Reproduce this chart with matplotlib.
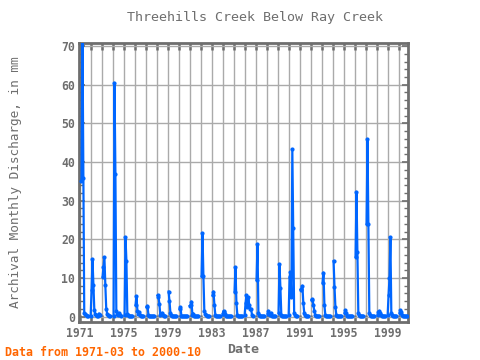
import matplotlib
matplotlib.use("Agg")
import matplotlib.pyplot as plt
from matplotlib.ticker import MultipleLocator
import numpy as np

nan = float('nan')
# Monthly discharge (mm), Jan..Dec per year (nan = no winter record);
# 1971 starts in March, 2000 ends in October
y1971 = [35.0, 75.0, 36.0, 1.0, 0.6, 0.4, 0.2, 0.2, nan, nan]
y1972 = [0.2, 7.0, 14.8, 8.2, 1.7, 0.6, 0.4, 0.2, 0.2, 0.8, 0.5, nan]
y1973 = [nan, 10.3, 12.9, 15.4, 8.2, 2.0, 0.8, 0.4, 0.2, 0.2, nan, nan]
y1974 = [nan, 0.2, 60.5, 37.0, 1.5, 0.8, 0.5, 1.0, 0.5, 0.2, nan, nan]
y1975 = [nan, 0.5, 20.5, 14.5, 0.8, 0.5, 0.2, 0.2, 0.2, 0.2, nan, nan]
y1976 = [nan, 3.0, 5.3, 1.5, 0.8, 1.2, 0.5, 0.2, 0.2, 0.2, nan, nan]
y1977 = [nan, 2.5, 2.8, 0.5, 0.2, 0.2, 0.2, 0.2, 0.2, 0.2, nan, nan]
y1978 = [nan, 5.5, 5.2, 3.2, 0.5, 0.8, 1.0, 0.5, 0.2, 0.2, nan, nan]
y1979 = [nan, 6.5, 4.0, 1.0, 0.5, 0.2, 0.2, 0.2, 0.2, 0.2, nan, nan]
y1980 = [nan, 2.0, 2.4, 0.2, 0.2, 0.2, 0.2, 0.2, 0.2, 0.2, nan, nan]
y1981 = [2.8, 3.0, 3.9, 0.5, 0.8, 0.2, 0.2, 0.2, 0.2, 0.2, nan, nan]
y1982 = [nan, 10.5, 21.6, 10.5, 1.5, 0.8, 0.5, 0.2, 0.2, 0.2, nan, nan]
y1983 = [nan, 5.5, 6.5, 3.0, 0.5, 0.2, 0.2, 0.2, 0.2, 0.2, nan, nan]
y1984 = [0.8, 1.5, 1.2, 0.8, 0.2, 0.2, 0.2, 0.2, 0.2, 0.2, nan, nan]
y1985 = [nan, 6.5, 12.8, 3.5, 0.5, 0.2, 0.2, 0.2, 0.2, 0.2, nan, nan]
y1986 = [0.5, 3.5, 5.5, 2.5, 5.0, 3.0, 2.0, 2.0, 0.5, 0.2, nan, nan]
y1987 = [nan, 9.5, 18.8, 1.0, 0.5, 0.2, 0.2, 0.2, 0.2, 0.2, nan, nan]
y1988 = [nan, 0.8, 1.5, 0.8, 0.5, 1.0, 0.2, 0.2, 0.2, 0.2, nan, nan]
y1989 = [nan, 1.0, 13.5, 7.5, 0.5, 0.2, 0.2, 0.2, 0.2, 0.2, nan, nan]
y1990 = [0.5, 10.3, 11.5, 5.0, 43.3, 23.0, 1.0, 0.5, 0.2, 0.2, nan, nan]
y1991 = [nan, 7.0, 7.2, 8.0, 3.5, 1.0, 0.5, 0.2, 0.2, 0.2, nan, nan]
y1992 = [nan, 4.3, 4.5, 3.0, 1.5, 0.5, 0.2, 0.2, 0.2, 0.2, nan, nan]
y1993 = [nan, 8.8, 11.4, 3.0, 0.5, 0.2, 0.2, 0.2, 0.2, 0.2, nan, nan]
y1994 = [nan, 14.4, 7.8, 2.5, 0.5, 0.2, 0.2, 0.2, 0.2, 0.2, nan, nan]
y1995 = [nan, 1.0, 1.7, 1.0, 0.2, 0.2, 0.2, 0.2, 0.2, 0.2, nan, nan]
y1996 = [nan, 15.5, 32.3, 16.8, 1.0, 0.5, 0.2, 0.2, 0.2, 0.2, nan, nan]
y1997 = [nan, 24.0, 45.9, 24.0, 1.0, 0.5, 0.2, 0.2, 0.2, 0.2, nan, nan]
y1998 = [nan, 0.5, 1.2, 1.5, 1.0, 0.5, 0.2, 0.2, 0.2, 0.2, nan, nan]
y1999 = [0.5, 5.6, 9.9, 20.5, 1.0, 0.5, 0.2, 0.2, 0.2, 0.2, nan, nan]
y2000 = [nan, 1.0, 1.7, 1.3, 0.5, 0.2, 0.2, 0.2, 0.2, 0.2]

years_data = [y1971, y1972, y1973, y1974, y1975, y1976, y1977, y1978, y1979, y1980,
              y1981, y1982, y1983, y1984, y1985, y1986, y1987, y1988, y1989, y1990,
              y1991, y1992, y1993, y1994, y1995, y1996, y1997, y1998, y1999, y2000]
start_year, start_month = 1971, 3
tick_years = [1971, 1975, 1979, 1983, 1987, 1991, 1995, 1999]

values = np.concatenate([np.array(v, dtype=float) for v in years_data])
t = start_year + (start_month - 1) / 12.0 + np.arange(len(values)) / 12.0

gray = '#6e6e6e'
fig = plt.figure(figsize=(4.8, 3.6), dpi=100)
ax = fig.add_axes([79/480, 1 - 321.5/360, (408-79)/480, (321.5-43)/360])

ax.plot(t, values, color='#0066ff', lw=1.6, marker='o', ms=2.0, zorder=3)

ax.set_xlim(1970.94, 2000.85)
ax.set_ylim(-1.25, 70.8)

ax.set_xticks(tick_years)
ax.set_xticklabels([str(y) for y in tick_years])
ax.xaxis.set_minor_locator(MultipleLocator(1))
ax.yaxis.set_major_locator(MultipleLocator(10))
ax.yaxis.set_minor_locator(MultipleLocator(2))

ax.grid(which='minor', axis='x', color='#aaaaaa', lw=1.0, zorder=0)
ax.grid(which='major', axis='x', color='#aaaaaa', lw=1.0, zorder=0)
ax.grid(which='major', axis='y', color='#aaaaaa', lw=1.0, zorder=0)

mono = 'DejaVu Sans Mono'
ax.tick_params(axis='x', which='both', direction='in', top=True, bottom=True,
               length=5, width=1.8, color=gray, labelcolor=gray, labelsize=8.3, pad=4)
ax.tick_params(axis='y', which='major', direction='in', left=True, right=True,
               length=4, width=1.2, color=gray, labelcolor=gray, labelsize=8.3, pad=3)
ax.tick_params(axis='y', which='minor', direction='in', left=True, right=True,
               length=3, width=1.0, color=gray)
for lab in ax.get_xticklabels() + ax.get_yticklabels():
    lab.set_family(mono)
    lab.set_fontweight('bold')

for s in ax.spines.values():
    s.set_color(gray)
    s.set_linewidth(2.0)

fig.text(0.531, 0.95, 'Threehills Creek Below Ray Creek', ha='center', va='center',
         family=mono, fontsize=9.6, color=gray)
ax.set_ylabel('Archival Monthly Discharge, in mm', family=mono, fontsize=9.2,
              color=gray, labelpad=28)
ax.set_xlabel('Date', family=mono, fontsize=9.5, color=gray, fontweight='bold', labelpad=2)
fig.text(0.01, 0.022, 'Data from 1971-03 to 2000-10', ha='left', va='center',
         family=mono, fontsize=8.4, color='#ff6600', fontweight='bold')

fig.savefig('out.png', dpi=100)
